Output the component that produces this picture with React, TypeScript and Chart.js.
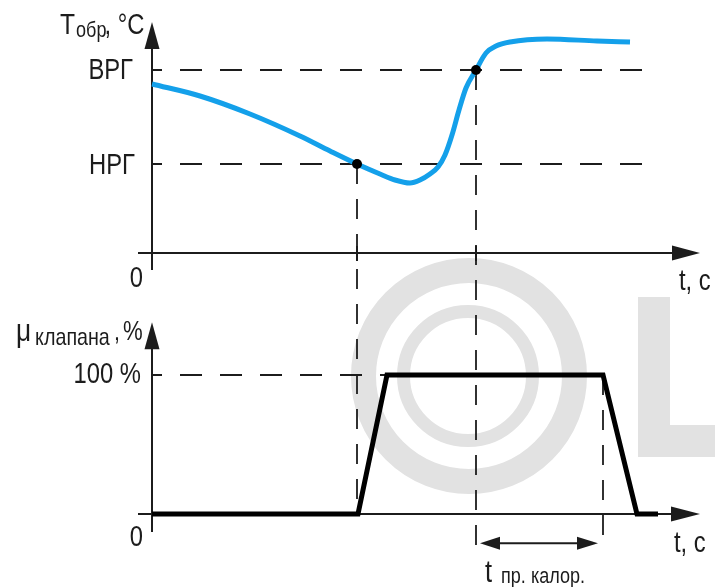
import React, { useEffect, useRef } from "react";
import { Chart, registerables } from "chart.js";

Chart.register(...registerables);

// ---- data ----
// return-water temperature curve: time (arbitrary s) and temperature (arbitrary units)
const tempTime = [0, 9.6, 19.6, 29.6, 35.6, 41, 45.6, 48.6, 51.6, 53.6, 55.6, 57.2, 58.6, 60, 61.4, 62.8, 64.8, 66.8, 68.8, 71.6, 79, 89, 95.6];
const tempValue = [84.5, 78.5, 69.5, 58.5, 51, 44.5, 39.5, 36.5, 35, 36.5, 39.5, 43, 49, 59, 71.5, 82.5, 91.5, 100, 103.5, 105.5, 107, 106, 105.5];

// valve opening, %
const valveTime = [0, 41.2, 47, 90.2, 97, 101.2];
const valveValue = [0, 0, 100, 100, 0, 0];

// thresholds and their crossing times
const thresholdLabels = ["ВРГ", "НРГ"];
const thresholdValues = [91.5, 44.5];
const crossTimes = [64.8, 41]; // when curve crosses ВРГ / НРГ
const valveCloseTime = 90.2;
const guideEndTime = 101.2;
const valveTickLabels = ["100 %", "0"];
const tempTickLabels = ["0"];
const axisTimeLabel = "t, c";

const FONT = '"Liberation Sans", Arial, sans-serif';
const SX = 0.82; // narrow face
const INK = "#1c1c1c";

function txt(ctx: CanvasRenderingContext2D, s: string, x: number, y: number, size: number, align: "left" | "right" = "left") {
  ctx.save();
  ctx.font = `${size}px ${FONT}`;
  ctx.textBaseline = "alphabetic";
  ctx.fillStyle = INK;
  const w = ctx.measureText(s).width * SX;
  const x0 = align === "right" ? x - w : x;
  ctx.translate(x0, y);
  ctx.scale(SX, 1);
  ctx.fillText(s, 0, 0);
  ctx.restore();
  return x0 + w;
}

function arrowHead(ctx: CanvasRenderingContext2D, tx: number, ty: number, dir: "up" | "right" | "left", len: number, half: number) {
  ctx.beginPath();
  if (dir === "up") {
    ctx.moveTo(tx, ty);
    ctx.lineTo(tx - half, ty + len);
    ctx.lineTo(tx + half, ty + len);
  } else if (dir === "right") {
    ctx.moveTo(tx, ty);
    ctx.lineTo(tx - len, ty - half);
    ctx.lineTo(tx - len, ty + half);
  } else {
    ctx.moveTo(tx, ty);
    ctx.lineTo(tx + len, ty - half);
    ctx.lineTo(tx + len, ty + half);
  }
  ctx.closePath();
  ctx.fill();
}

function line(ctx: CanvasRenderingContext2D, x1: number, y1: number, x2: number, y2: number) {
  ctx.beginPath();
  ctx.moveTo(x1, y1);
  ctx.lineTo(x2, y2);
  ctx.stroke();
}

const diagramPlugin = {
  id: "diagram",
  beforeDraw(chart: any) {
    const ctx: CanvasRenderingContext2D = chart.ctx;
    // light watermark
    ctx.save();
    ctx.strokeStyle = "#e2e2e2";
    ctx.fillStyle = "#e2e2e2";
    ctx.lineWidth = 25;
    ctx.beginPath();
    ctx.arc(469, 376, 105.5, 0, Math.PI * 2);
    ctx.stroke();
    ctx.lineWidth = 13;
    ctx.beginPath();
    ctx.arc(468, 376, 64.5, 0, Math.PI * 2);
    ctx.stroke();
    ctx.fillRect(638, 297, 32, 160);
    ctx.fillRect(638, 425, 80, 32);
    ctx.restore();
  },
  beforeDatasetsDraw(chart: any) {
    const ctx: CanvasRenderingContext2D = chart.ctx;
    const x = chart.scales.x;
    const yT = chart.scales.yT;
    const yV = chart.scales.yV;
    const x0 = x.getPixelForValue(0);
    const xTip = chart.chartArea.right;
    const t0 = yT.getPixelForValue(0);
    const v0 = yV.getPixelForValue(0);
    const vExt = yV.getPixelForValue(-24);

    ctx.save();
    ctx.strokeStyle = INK;
    ctx.fillStyle = INK;
    ctx.lineWidth = 1.8;

    // horizontal threshold guides
    ctx.setLineDash([22, 18]);
    ctx.lineDashOffset = 12;
    thresholdValues.forEach((v) => {
      const py = yT.getPixelForValue(v);
      line(ctx, x0, py, x.getPixelForValue(guideEndTime), py);
    });
    const p100 = yV.getPixelForValue(100);
    line(ctx, x0, p100, x.getPixelForValue(valveTime[2]), p100);

    // vertical guides
    ctx.setLineDash([20, 15]);
    ctx.lineDashOffset = 0;
    const xLow = x.getPixelForValue(crossTimes[1]);
    line(ctx, xLow, yT.getPixelForValue(thresholdValues[1]), xLow, v0);
    const xHigh = x.getPixelForValue(crossTimes[0]);
    line(ctx, xHigh, yT.getPixelForValue(thresholdValues[0]), xHigh, vExt);
    const xClose = x.getPixelForValue(valveCloseTime);
    line(ctx, xClose, p100, xClose, vExt);
    ctx.setLineDash([]);

    // axes
    ctx.lineWidth = 2;
    const topTip = yT.getPixelForValue(115.5);
    line(ctx, x0, t0 + 17, x0, topTip + 20);
    arrowHead(ctx, x0, topTip, "up", 27, 7.5);
    line(ctx, x0 - 14, t0, xTip - 20, t0);
    arrowHead(ctx, xTip, t0, "right", 28, 7.5);
    // small ticks on time axis
    [xLow, xHigh].forEach((px) => line(ctx, px, t0 - 7, px, t0 + 8));

    const vTip = yV.getPixelForValue(138);
    line(ctx, x0, v0 + 18, x0, vTip + 20);
    arrowHead(ctx, x0, vTip, "up", 27, 7.5);
    line(ctx, x0 - 14, v0, xTip - 20, v0);
    arrowHead(ctx, xTip, v0, "right", 29, 7.5);

    // double arrow for t пр. калор.
    const ay = yV.getPixelForValue(-21);
    ctx.lineWidth = 2;
    line(ctx, xHigh + 15, ay, xClose - 15, ay);
    arrowHead(ctx, xHigh + 4, ay, "left", 20, 6.5);
    arrowHead(ctx, xClose - 5, ay, "right", 21, 6.5);
    ctx.restore();
  },
  afterDatasetsDraw(chart: any) {
    const ctx: CanvasRenderingContext2D = chart.ctx;
    const x = chart.scales.x;
    const yT = chart.scales.yT;
    const yV = chart.scales.yV;
    const x0 = x.getPixelForValue(0);
    const t0 = yT.getPixelForValue(0);
    const v0 = yV.getPixelForValue(0);
    const xTip = chart.chartArea.right;

    // top axis title: Tобр, °C
    let cx = txt(ctx, "T", 60, 34, 30);
    cx = txt(ctx, "обр", cx + 1, 37, 22);
    txt(ctx, ", °C", cx - 2, 34, 29);

    // threshold labels
    txt(ctx, thresholdLabels[0], x0 - 19, yT.getPixelForValue(thresholdValues[0]) + 9, 29, "right");
    txt(ctx, thresholdLabels[1], x0 - 17, yT.getPixelForValue(thresholdValues[1]) + 10, 29, "right");
    txt(ctx, tempTickLabels[0], x0 - 9, t0 + 34, 29, "right");
    txt(ctx, axisTimeLabel, xTip - 21, t0 + 37, 29);

    // bottom axis title: μ клапана , %
    cx = txt(ctx, "μ", 16, 341, 32);
    txt(ctx, "клапана", cx + 4, 345, 24);
    txt(ctx, ",", 114, 340, 26);
    txt(ctx, "%", 123, 340, 27);
    txt(ctx, valveTickLabels[0], x0 - 11, yV.getPixelForValue(100) + 8, 29, "right");
    txt(ctx, valveTickLabels[1], x0 - 9, v0 + 32, 29, "right");
    txt(ctx, axisTimeLabel, xTip - 26, v0 + 38, 29);

    // t пр. калор.
    const xHigh = x.getPixelForValue(crossTimes[0]);
    cx = txt(ctx, "t", xHigh + 9, v0 + 68, 31);
    txt(ctx, "пр. калор.", cx + 9, v0 + 69, 22);
  },
};

export default function App() {
  const ref = useRef<HTMLCanvasElement | null>(null);
  useEffect(() => {
    if (!ref.current) return;
    const chart = new Chart(ref.current, {
      type: "scatter",
      data: {
        datasets: [
          {
            label: "crossings",
            data: crossTimes.map((t, i) => ({ x: t, y: thresholdValues[i] })),
            yAxisID: "yT",
            order: 0,
            showLine: false,
            pointRadius: 5,
            pointBackgroundColor: "#000",
            pointBorderColor: "#000",
            pointBorderWidth: 0,
            clip: false,
          } as any,
          {
            label: "Tобр",
            data: tempTime.map((t, i) => ({ x: t, y: tempValue[i] })),
            yAxisID: "yT",
            order: 1,
            showLine: true,
            borderColor: "#14a0ea",
            borderWidth: 5,
            borderCapStyle: "butt",
            cubicInterpolationMode: "monotone",
            pointRadius: 0,
            clip: false,
          } as any,
          {
            label: "μ клапана",
            data: valveTime.map((t, i) => ({ x: t, y: valveValue[i] })),
            yAxisID: "yV",
            order: 2,
            showLine: true,
            borderColor: "#000",
            borderWidth: 5,
            borderJoinStyle: "miter",
            tension: 0,
            pointRadius: 0,
            clip: false,
          } as any,
        ],
      },
      options: {
        responsive: false,
        animation: false,
        devicePixelRatio: 1,
        events: [],
        layout: { padding: { left: 152, right: 15, top: 22, bottom: 73 } },
        plugins: { legend: { display: false }, tooltip: { enabled: false } },
        scales: {
          x: { type: "linear", display: false, min: 0, max: 109.6 },
          yT: { type: "linear", display: false, min: -130.5, max: 115.5 },
          yV: { type: "linear", display: false, min: 0, max: 353.96 },
        },
      } as any,
      plugins: [diagramPlugin as any],
    });
    return () => chart.destroy();
  }, []);
  return (
    <div style={{ position: "fixed", left: 0, top: 0, width: 715, height: 587, background: "#fff" }}>
      <canvas ref={ref} width={715} height={587} style={{ display: "block" }} />
    </div>
  );
}
